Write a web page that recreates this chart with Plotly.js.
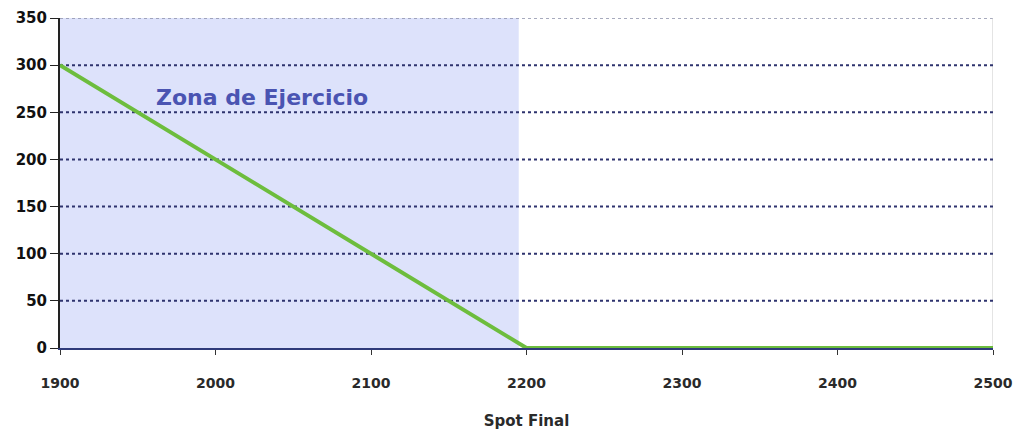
<!DOCTYPE html>
<html>
<head>
<meta charset="utf-8">
<script src="https://cdn.plot.ly/plotly-3.0.1.min.js"></script>
<style>body{margin:0;background:#fff}#chart{width:1019px;height:434px}</style>
</head>
<body>
<div id="chart"></div>
<script>
const spot = [1900, 2200, 2500];
const payoff = [300, 0, 0];
const zoneStart = 1900;
const zoneEnd = 2195;
const zoneLabel = "Zona de Ejercicio";
const xTicks = [1900, 2000, 2100, 2200, 2300, 2400, 2500];
const yTicks = [0, 50, 100, 150, 200, 250, 300, 350];
const gridLevels = [50, 100, 150, 200, 250, 300];

const shapes = [
  {type:'rect', xref:'x', yref:'y', x0:zoneStart, x1:zoneEnd, y0:0, y1:350,
   fillcolor:'#dde2fb', line:{width:0}, layer:'below'},
  {type:'line', xref:'x', yref:'y', x0:1900, x1:2500, y0:350, y1:350,
   line:{color:'#8a8fa8', width:1.5, dash:'dot'}, layer:'below'},
  {type:'line', xref:'x', yref:'y', x0:2500, x1:2500, y0:0, y1:350,
   line:{color:'#c8c8c8', width:1}, layer:'below'}
];
gridLevels.forEach(v => shapes.push({type:'line', xref:'x', yref:'y', x0:1900, x1:2500, y0:v, y1:v,
  line:{color:'#2e336e', width:2, dash:'dot'}, layer:'below'}));

Plotly.newPlot('chart', [{
  x: spot, y: payoff, type:'scatter', mode:'lines',
  line:{color:'#6dbd3d', width:4}, hoverinfo:'skip'
}], {
  width:1019, height:434,
  margin:{l:60, r:26, t:18, b:86},
  paper_bgcolor:'#fff', plot_bgcolor:'rgba(0,0,0,0)',
  showlegend:false,
  font:{family:'DejaVu Sans, Verdana, sans-serif', color:'#222', size:14},
  xaxis:{range:[1900,2500], tickvals:xTicks, ticktext:xTicks.map(String),
    showgrid:false, zeroline:false, showline:true, linecolor:'#2e3a7a', linewidth:2,
    ticks:'outside', ticklen:5, tickcolor:'#333', ticklabelstandoff:16,
    tickfont:{size:14, color:'#2a2a2a', weight:'bold'},
    title:{text:'Spot Final', font:{size:15, color:'#2a2a2a', weight:'bold'}, standoff:26}},
  yaxis:{range:[0,350], tickvals:yTicks, ticktext:yTicks.map(String),
    showgrid:false, zeroline:false, showline:true, linecolor:'#222', linewidth:2,
    ticks:'outside', ticklen:8, tickcolor:'#222', tickfont:{size:15, color:'#111', weight:'bold'}},
  shapes: shapes,
  annotations:[{x:2030, y:266, xref:'x', yref:'y', text:zoneLabel, showarrow:false,
    font:{family:'DejaVu Sans, Verdana, sans-serif', size:22, color:'#4a54b2', weight:'bold'}}]
}, {staticPlot:true, displayModeBar:false});
</script>
</body>
</html>
